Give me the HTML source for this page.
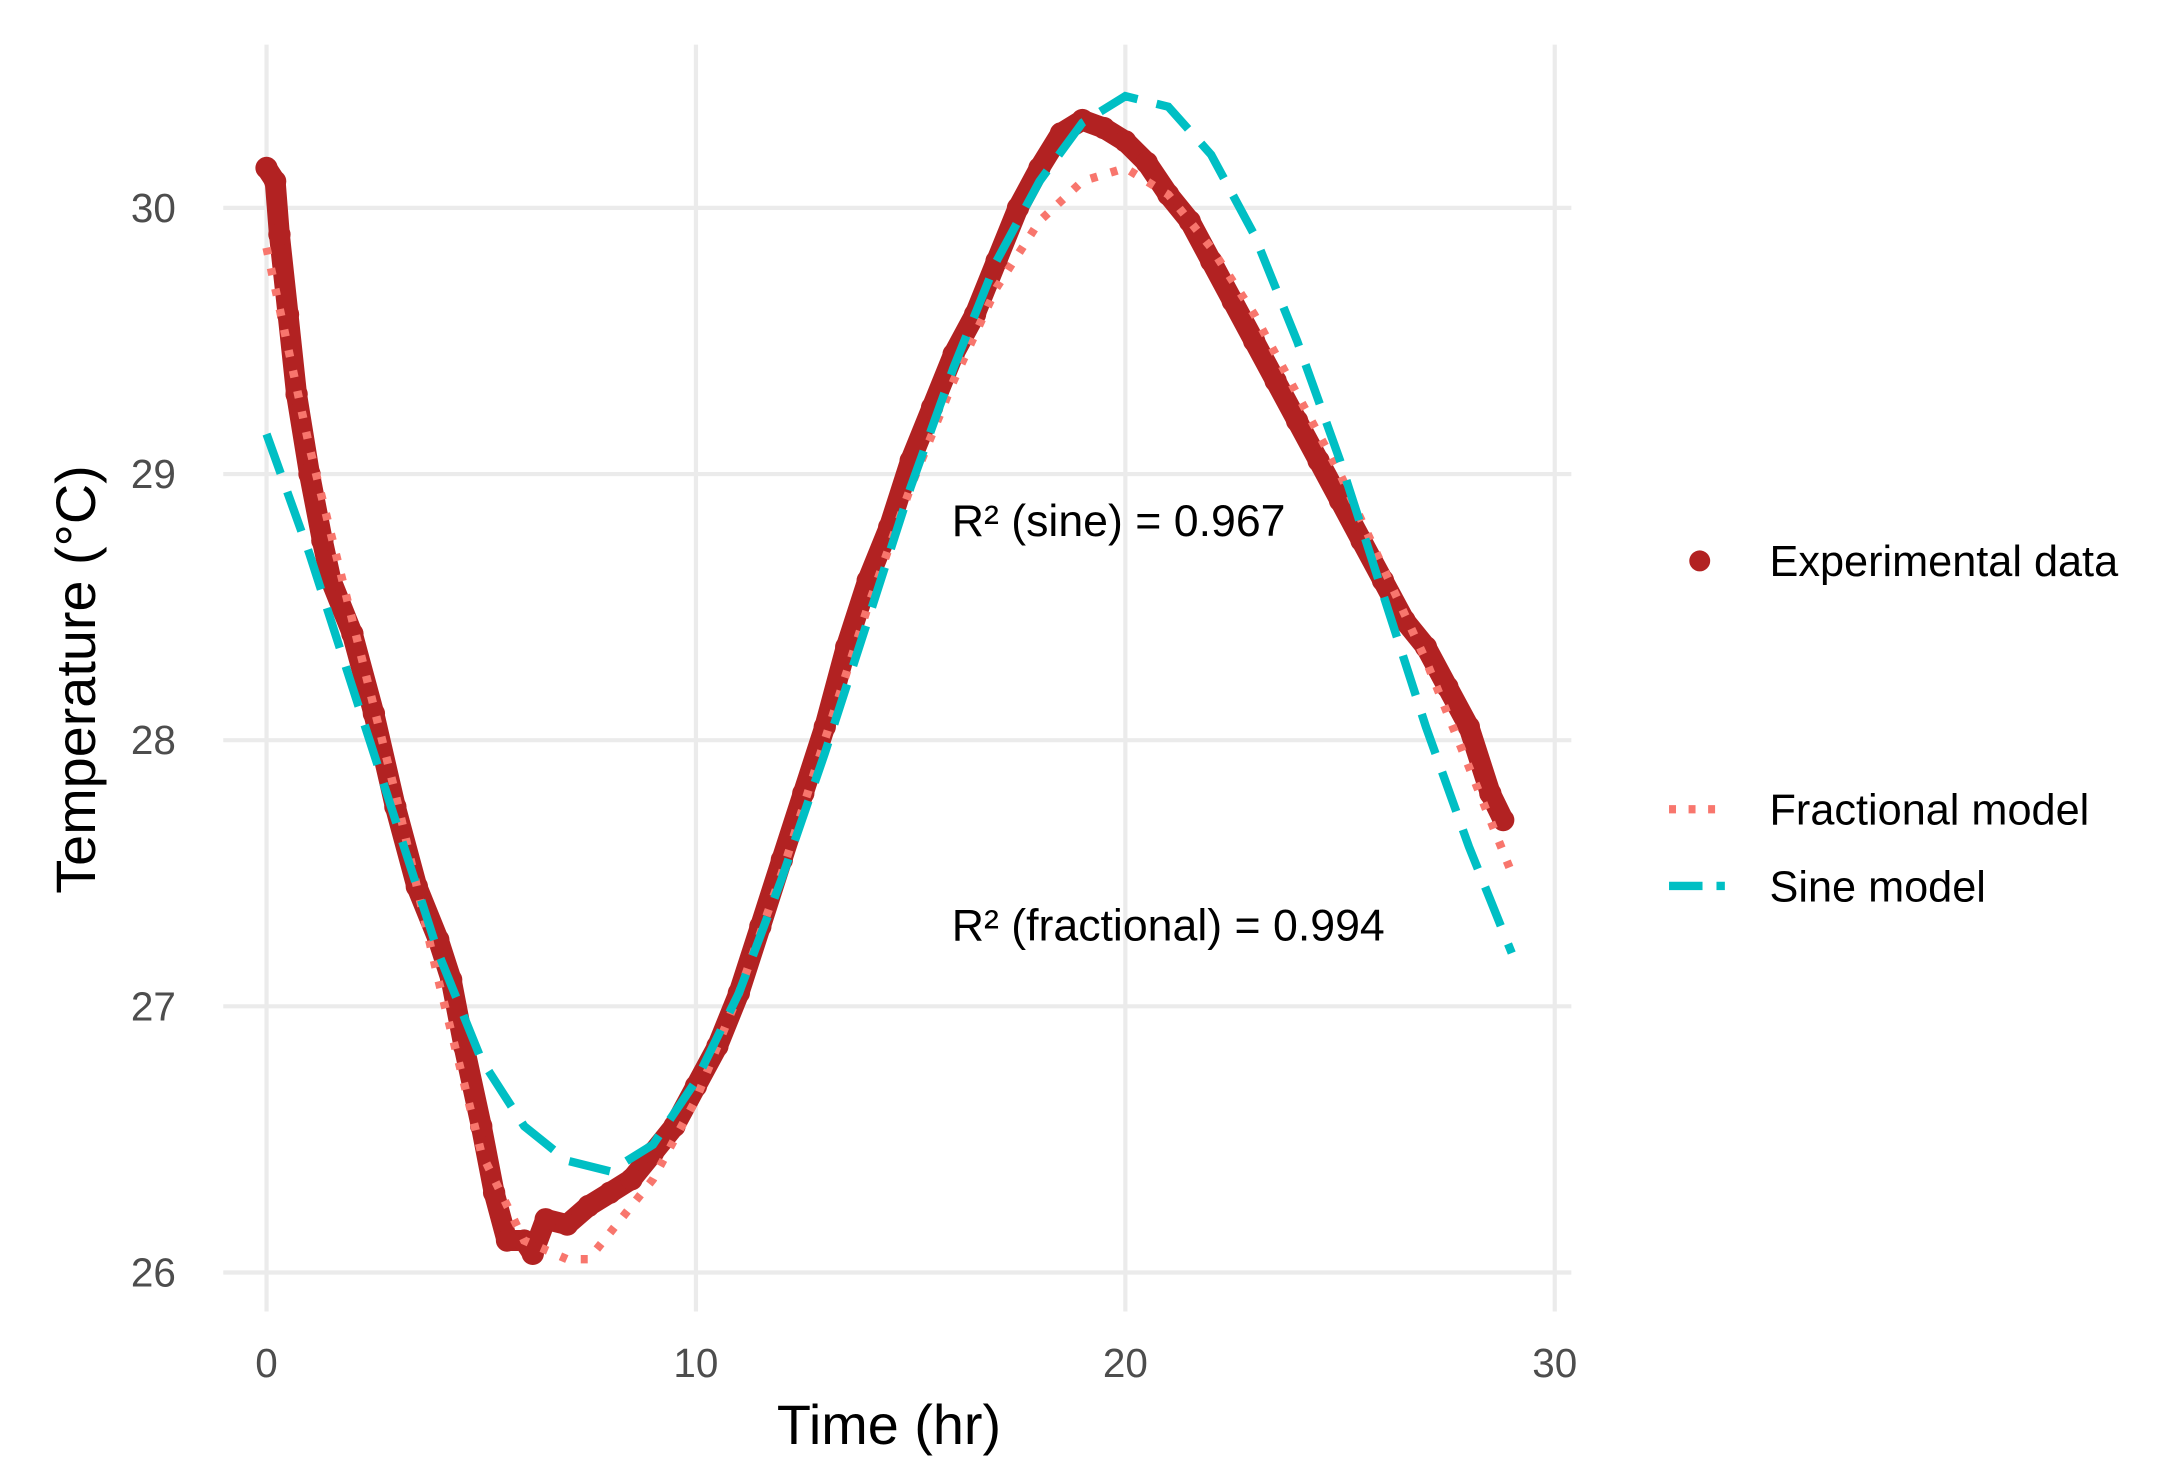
<!DOCTYPE html>
<html><head><meta charset="utf-8"><style>
html,body{margin:0;padding:0;background:#fff;}
svg{display:block;font-family:"Liberation Sans",Arial,sans-serif;}
</style></head><body>
<svg id="chart" width="2177" height="1472" viewBox="0 0 1560 1055" preserveAspectRatio="none" xmlns="http://www.w3.org/2000/svg">
<g id="grid"></g>
<g id="series"></g>
<g id="axes"></g>
<text x="682" y="384" font-size="32" fill="#000">R² (sine) = 0.967</text>
<text x="682" y="674" font-size="32" fill="#000">R² (fractional) = 0.994</text>
<text x="637" y="1035" font-size="40" text-anchor="middle" fill="#000">Time (hr)</text>
<text transform="translate(68,487) rotate(-90)" font-size="40" text-anchor="middle" fill="#000">Temperature (°C)</text>
<g>
  <circle cx="1218" cy="402" r="7.5" fill="#B22222"/>
  <text x="1268" y="413" font-size="31">Experimental data</text>
  <line x1="1196" y1="580" x2="1236" y2="580" stroke="#F8766D" stroke-width="6" stroke-dasharray="5,9"/>
  <text x="1268" y="591" font-size="31">Fractional model</text>
  <line x1="1196" y1="635" x2="1236" y2="635" stroke="#00BFC4" stroke-width="6" stroke-dasharray="24,10"/>
  <text x="1268" y="646" font-size="31">Sine model</text>
</g>
</svg>
<script>
const expTime=[0,0.2,0.3,0.5,0.7,1,1.3,1.5,2,2.5,3,3.5,4,4.3,4.6,5,5.3,5.6,6,6.2,6.5,7,7.5,8,8.5,9,9.5,10,10.5,11,11.5,12,12.5,13,13.5,14,14.5,15,15.5,16,16.5,17,17.5,18,18.5,19,19.5,20,20.5,21,21.5,22,22.5,23,23.5,24,24.5,25,25.5,26,26.5,27,27.5,28,28.5,28.8];
const expTemp=[30.15,30.1,29.9,29.6,29.3,29.0,28.75,28.6,28.4,28.1,27.75,27.45,27.25,27.1,26.85,26.55,26.3,26.12,26.12,26.07,26.2,26.18,26.25,26.3,26.35,26.45,26.55,26.7,26.85,27.05,27.3,27.55,27.8,28.05,28.35,28.6,28.8,29.05,29.25,29.45,29.6,29.8,30.0,30.15,30.28,30.33,30.3,30.25,30.17,30.05,29.95,29.8,29.65,29.5,29.35,29.2,29.05,28.9,28.75,28.6,28.45,28.35,28.2,28.05,27.8,27.7];
const modelTime=[0,1,2,3,4,5,6,7,7.5,8,9,10,11,12,13,14,15,16,17,18,19,20,21,22,23,24,25,26,27,28,29];
const fracTemp=[29.85,29.1,28.45,27.8,27.1,26.45,26.12,26.05,26.05,26.15,26.35,26.65,27.05,27.5,28.0,28.5,28.95,29.35,29.7,29.95,30.1,30.15,30.05,29.85,29.6,29.3,29.0,28.65,28.3,27.9,27.5];
const sineTime=[0,1,2,3,4,5,6,7,8,9,10,11,12,13,14,15,16,17,18,19,20,21,22,23,24,25,26,27,28,29];
const sineTemp=[29.15,28.7,28.2,27.7,27.2,26.8,26.55,26.42,26.38,26.48,26.72,27.05,27.48,27.95,28.45,28.95,29.4,29.8,30.1,30.32,30.42,30.38,30.2,29.9,29.5,29.05,28.55,28.05,27.6,27.2];
const xTicks=[0,10,20,30];
const yTicks=[26,27,28,29,30];

const NS="http://www.w3.org/2000/svg";
const X=t=>191+t*30.77;
const Y=v=>912-(v-26)*190.75;
function mk(tag,attrs,parent){const e=document.createElementNS(NS,tag);for(const k in attrs)e.setAttribute(k,attrs[k]);parent.appendChild(e);return e;}
const grid=document.getElementById('grid'),axes=document.getElementById('axes'),series=document.getElementById('series');
xTicks.forEach(t=>{
  const l=mk('line',{x1:X(t),x2:X(t),y1:32,y2:940,stroke:'#ebebeb','stroke-width':3},grid);
  
  
  const tx=mk('text',{x:X(t),y:987,'font-size':29,fill:'#4d4d4d','text-anchor':'middle'},axes);
  tx.textContent=t;
  
  
});
yTicks.forEach(v=>{
  const l=mk('line',{x1:160,x2:1126,y1:Y(v),y2:Y(v),stroke:'#ebebeb','stroke-width':3},grid);
  
  
  const tx=mk('text',{x:126,y:Y(v)+10,'font-size':29,fill:'#4d4d4d','text-anchor':'end'},axes);
  tx.textContent=v;
  
  
});
const path=(ts,vs)=>ts.map((t,i)=>(i?'L':'M')+X(t).toFixed(1)+','+Y(vs[i]).toFixed(1)).join(' ');
const band=mk('path',{d:path(expTime,expTemp),fill:'none',stroke:'#B22222','stroke-width':15,'stroke-linejoin':'round','stroke-linecap':'round'},series);


expTime.forEach((t,i)=>{
  const c=mk('circle',{cx:X(t),cy:Y(expTemp[i]),r:8,fill:'#B22222'},series);
  
  
});
const fr=mk('path',{d:path(modelTime,fracTemp),fill:'none',stroke:'#F8766D','stroke-width':6,'stroke-dasharray':'5,10'},series);


const sn=mk('path',{d:path(sineTime,sineTemp),fill:'none',stroke:'#00BFC4','stroke-width':6,'stroke-dasharray':'30,14'},series);


</script>
</body></html>
